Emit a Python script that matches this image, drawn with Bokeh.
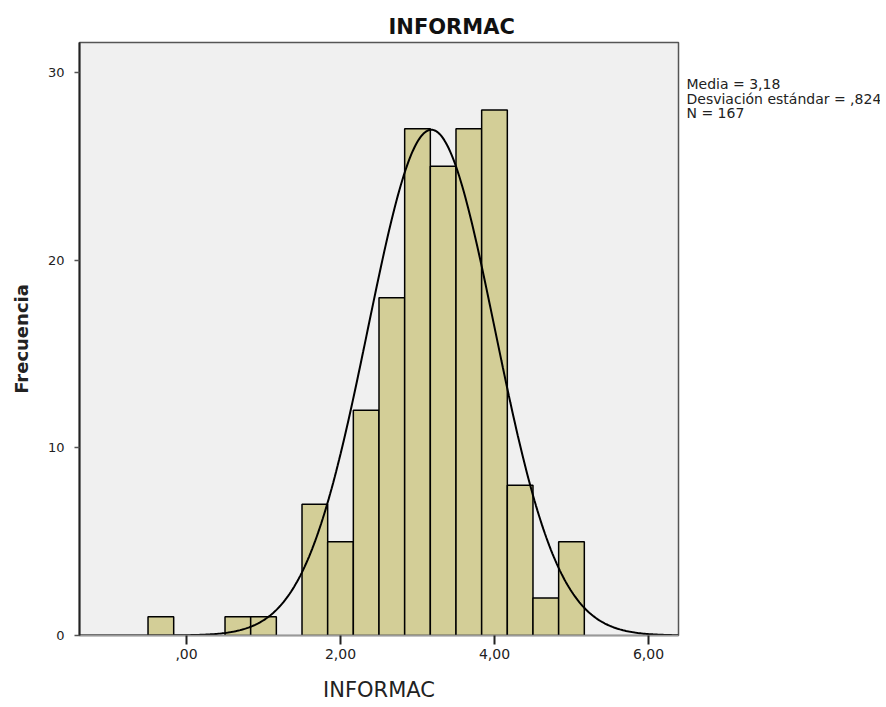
import numpy as np
from bokeh.plotting import figure
from bokeh.layouts import row
from bokeh.models import Range1d, FixedTicker, ColumnDataSource
from bokeh.core.properties import value
from bokeh.embed import file_html
from bokeh.resources import INLINE

# ---- data ----
bin_centers = [-0.3333, 0.0, 0.3333, 0.6667, 1.0, 1.3333, 1.6667, 2.0, 2.3333,
               2.6667, 3.0, 3.3333, 3.6667, 4.0, 4.3333, 4.6667, 5.0]
counts = [1, 0, 0, 1, 1, 0, 7, 5, 12, 18, 27, 25, 27, 28, 8, 2, 5]
bin_width = 1.0 / 3.0
mean = 3.18
std = 0.824
n = 167
x_ticks = [0, 2, 4, 6]
x_tick_labels = [",00", "2,00", "4,00", "6,00"]
y_ticks = [0, 10, 20, 30]
stats_lines = ["Media = 3,18", "Desviación estándar = ,824", "N = 167"]

FONT = "DejaVu Sans"
H = 707
TOP, BOTTOM = 42, 72

p = figure(width=680, height=H, output_backend="svg", toolbar_location=None,
           x_range=Range1d(-1.39, 6.39), y_range=Range1d(0, 31.6),
           min_border_left=79, min_border_right=2, min_border_top=TOP,
           min_border_bottom=BOTTOM)

p.background_fill_color = "#F0F0F0"
p.border_fill_color = "white"
p.outline_line_color = "#555555"
p.outline_line_width = 1.5
p.grid.visible = False

# title
p.title.text = "INFORMAC"
p.title.text_font = FONT
p.title.text_font_size = "21px"
p.title.text_font_style = "bold"
p.title.text_color = "#111111"
p.title.align = "left"
p.title.offset = 309
p.title.standoff = 7

# histogram
src_l = [c - bin_width / 2 for c, k in zip(bin_centers, counts) if k > 0]
src_r = [c + bin_width / 2 for c, k in zip(bin_centers, counts) if k > 0]
src_t = [k for k in counts if k > 0]
src = ColumnDataSource(dict(left=src_l, right=src_r, top=src_t, bottom=[0] * len(src_t)))
p.quad(left="left", right="right", top="top", bottom="bottom", source=src,
       fill_color="#D3CE97", line_color="black", line_width=1.5)

# normal curve
xs = np.linspace(-1.39, 6.39, 400)
ys = n * bin_width * np.exp(-0.5 * ((xs - mean) / std) ** 2) / (std * np.sqrt(2 * np.pi))
p.line(xs, ys, line_color="black", line_width=2)

# axes
p.xaxis.ticker = FixedTicker(ticks=x_ticks)
p.xaxis.major_label_overrides = {t: l for t, l in zip(x_ticks, x_tick_labels)}
p.yaxis.ticker = FixedTicker(ticks=y_ticks)
p.xaxis.minor_tick_line_color = None
p.yaxis.minor_tick_line_color = None
p.xaxis.major_tick_in = 0
p.yaxis.major_tick_in = 0
p.xaxis.major_tick_out = 9
p.yaxis.major_tick_out = 5
p.xaxis.major_tick_line_width = 2
p.yaxis.major_tick_line_width = 1.5
p.xaxis.major_tick_line_color = "#222222"
p.yaxis.major_tick_line_color = "#555555"
p.yaxis.axis_line_color = "#222222"
p.yaxis.axis_line_width = 2
p.xaxis.axis_line_color = "#999999"
p.xaxis.axis_line_width = 1.5
p.xaxis.major_label_text_font = FONT
p.xaxis.major_label_text_font_size = "14px"
p.yaxis.major_label_text_font = FONT
p.yaxis.major_label_text_font_size = "13px"
p.xaxis.major_label_text_color = "#222222"
p.yaxis.major_label_text_color = "#222222"
p.xaxis.major_label_standoff = 4
p.yaxis.major_label_standoff = 10

p.xaxis.axis_label = "INFORMAC"
p.xaxis.axis_label_text_font = FONT
p.xaxis.axis_label_text_font_size = "21px"
p.xaxis.axis_label_text_font_style = "normal"
p.xaxis.axis_label_text_color = "#222222"
p.xaxis.axis_label_standoff = 16

p.yaxis.axis_label = "Frecuencia"
p.yaxis.axis_label_text_font = FONT
p.yaxis.axis_label_text_font_size = "18px"
p.yaxis.axis_label_text_font_style = "bold"
p.yaxis.axis_label_text_color = "#222222"
p.yaxis.axis_label_standoff = 13

# side panel for the statistics text (pixel coordinates, y downwards)
side = figure(width=200, height=H, output_backend="svg", toolbar_location=None,
              x_range=Range1d(680, 880), y_range=Range1d(H - BOTTOM, TOP),
              x_axis_type=None, y_axis_type=None,
              min_border_left=0, min_border_right=0,
              min_border_top=TOP, min_border_bottom=BOTTOM)
side.outline_line_color = None
side.background_fill_color = "white"
side.border_fill_color = "white"
side.grid.visible = False
stats_src = ColumnDataSource(dict(
    x=[686] * len(stats_lines),
    y=[83.5 + 14.5 * i for i in range(len(stats_lines))],
    text=stats_lines))
side.text(x="x", y="y", text="text", source=stats_src,
          text_font=value(FONT), text_font_size="14px", text_color="#222222",
          text_baseline="middle", text_align="left")

layout = row(p, side)
open("out.html", "w").write(file_html(layout, INLINE))
